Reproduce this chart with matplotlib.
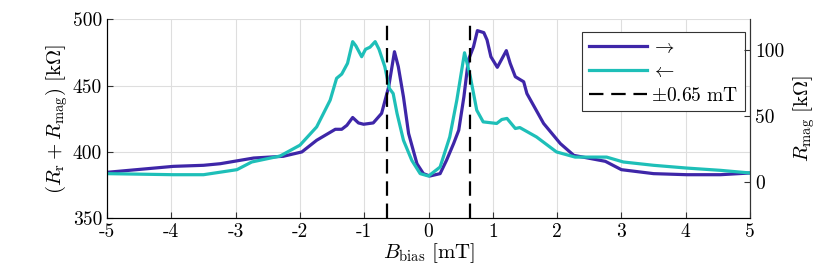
import matplotlib
matplotlib.use("Agg")
import matplotlib.pyplot as plt

plt.rcParams['font.family'] = 'serif'
plt.rcParams['font.serif'] = ['cmr10', 'DejaVu Serif']
plt.rcParams['mathtext.fontset'] = 'cm'
plt.rcParams['axes.unicode_minus'] = False
plt.rcParams['axes.formatter.use_mathtext'] = True

# sweep up (->)
b_fwd = [-5.0, -3.97, -3.5, -3.24, -2.72, -2.26, -1.97, -1.74, -1.45, -1.35, -1.27,
         -1.18, -1.09, -1.01, -0.86, -0.73, -0.62, -0.53, -0.47, -0.39, -0.31, -0.18,
         -0.08, 0.02, 0.18, 0.28, 0.39, 0.47, 0.55, 0.62, 0.70, 0.76, 0.86, 0.91,
         0.97, 1.07, 1.21, 1.27, 1.35, 1.48, 1.53, 1.79, 2.05, 2.26, 2.75, 3.0, 3.5,
         4.02, 4.54, 5.0]
r_fwd = [384.5, 389.0, 389.8, 391.0, 395.3, 396.6, 399.9, 408.7, 417.0, 417.0, 420.0,
         425.9, 421.8, 420.8, 421.8, 429.0, 449.0, 475.6, 464.3, 441.5, 413.8, 391.0,
         383.5, 381.7, 383.5, 393.6, 406.2, 416.3, 441.5, 469.3, 479.4, 491.5, 490.0,
         484.5, 471.8, 463.8, 476.4, 466.8, 456.7, 452.9, 444.0, 421.4, 406.2, 397.3,
         392.8, 386.5, 383.5, 382.7, 382.7, 384.0]

# sweep down (<-)
b_bwd = [-5.0, -3.97, -3.5, -2.98, -2.75, -2.31, -2.0, -1.74, -1.53, -1.43, -1.35,
         -1.26, -1.18, -1.13, -1.04, -0.98, -0.91, -0.83, -0.77, -0.68, -0.61, -0.55,
         -0.49, -0.39, -0.26, -0.13, 0.0, 0.18, 0.33, 0.44, 0.56, 0.65, 0.75, 0.85,
         1.06, 1.14, 1.22, 1.35, 1.42, 1.68, 1.99, 2.28, 2.77, 3.03, 3.5, 4.02, 4.54,
         5.0]
r_bwd = [383.5, 382.7, 382.7, 386.5, 392.3, 396.8, 405.0, 418.8, 439.0, 455.5, 458.7,
         466.8, 483.2, 480.0, 471.8, 477.4, 479.0, 483.2, 477.4, 464.3, 447.9, 444.0,
         429.0, 408.7, 393.5, 383.5, 381.7, 388.5, 411.2, 439.0, 474.8, 456.7, 431.4,
         422.6, 421.4, 424.4, 425.2, 417.6, 418.3, 411.2, 399.9, 396.0, 396.0, 392.3,
         389.8, 387.7, 386.0, 384.0]

b_mark = 0.65
x_ticks = [-5, -4, -3, -2, -1, 0, 1, 2, 3, 4, 5]
y_ticks = [350, 400, 450, 500]
y2_ticks = [0, 50, 100]

c_fwd = '#3e26a8'
c_bwd = '#1ebfb8'

fig = plt.figure(figsize=(8.3, 2.77), dpi=100)
ax = fig.add_axes([0.129, 0.213, 0.7746, 0.717])

ax.plot(b_fwd, r_fwd, color=c_fwd, lw=2.3, label=r'$\rightarrow$')
ax.plot(b_bwd, r_bwd, color=c_bwd, lw=2.3, label=r'$\leftarrow$')
ax.axvline(-b_mark, color='black', ls='--', lw=1.6, dashes=(6.5, 3.5))
ax.axvline(b_mark, color='black', ls='--', lw=1.6, dashes=(6.5, 3.5), label=r'$\pm0.65\ \mathrm{mT}$')

ax.set_xlim(-5, 5)
ax.set_ylim(350, 500)
ax.set_xticks(x_ticks)
ax.set_xticklabels([str(t) for t in x_ticks])
ax.set_yticks(y_ticks)
ax.set_yticklabels([str(t) for t in y_ticks])
ax.grid(True, color='#dedede', lw=0.8)
ax.set_axisbelow(True)
ax.tick_params(direction='in', labelsize=14, length=4, color='#333333')
ax.spines['top'].set_visible(False)
for s in ['left', 'bottom', 'right']:
    ax.spines[s].set_color('#333333')
ax.set_xlabel(r'$B_\mathrm{bias}\ [\mathrm{mT}]$', fontsize=15, labelpad=0)
ax.set_ylabel(r'$(R_\mathrm{r} + R_\mathrm{mag})\ [\mathrm{k}\Omega]$', fontsize=15, labelpad=2)

ax2 = ax.twinx()
ax2.set_ylim(350 - 377.2, 500 - 377.2)
ax2.set_yticks(y2_ticks)
ax2.set_yticklabels([str(t) for t in y2_ticks])
ax2.tick_params(direction='in', labelsize=14, length=4, color='#333333')
ax2.spines['top'].set_visible(False)
ax2.spines['right'].set_color('#333333')
ax2.set_ylabel(r'$R_\mathrm{mag}\ [\mathrm{k}\Omega]$', fontsize=15, labelpad=5)

leg = ax.legend(loc='upper right', bbox_to_anchor=(0.992, 0.935), fontsize=14,
                handlelength=3.0, fancybox=False, framealpha=1, edgecolor='#333333',
                borderpad=0.35, labelspacing=0.3, handletextpad=0.2, borderaxespad=0)
leg.get_frame().set_linewidth(0.8)

fig.savefig('out.png', dpi=100)
